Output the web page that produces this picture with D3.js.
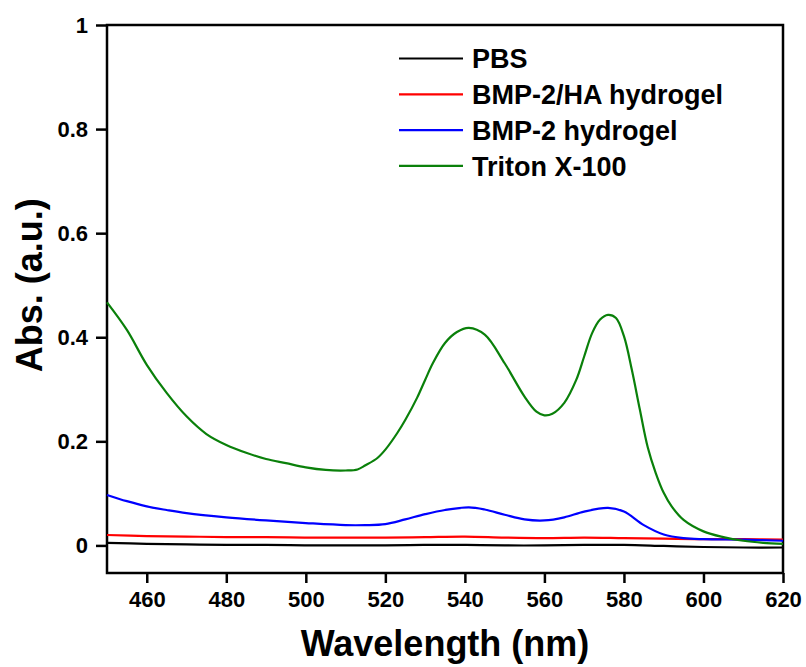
<!DOCTYPE html>
<html>
<head>
<meta charset="utf-8">
<script src="https://cdn.jsdelivr.net/npm/d3@7"></script>
<style>
  body { margin: 0; background: #fff; }
  text { font-family: "Liberation Sans", Arial, sans-serif; font-weight: bold; }
</style>
</head>
<body>
<svg id="chart" width="806" height="667"></svg>
<script>
// spectra: [wavelength nm, absorbance]
var triton = [[450,0.467],[455,0.414],[460,0.347],[465,0.293],[470,0.248],[475,0.214],[480,0.193],
  [485,0.178],[490,0.166],[495,0.158],[500,0.150],[505,0.145],[510,0.144],[513,0.146],[515,0.154],
  [518,0.168],[520,0.184],[523,0.216],[525,0.241],[528,0.284],[530,0.318],[532,0.351],[535,0.389],
  [538,0.410],[541,0.418],[545,0.405],[550,0.350],[555,0.286],[558,0.257],[560,0.250],[562,0.253],
  [565,0.274],[568,0.318],[570,0.363],[572,0.408],[574,0.434],[576,0.443],[578,0.437],[580,0.402],
  [582,0.337],[584,0.261],[586,0.188],[588,0.139],[590,0.101],[592,0.075],[595,0.049],[600,0.027],
  [605,0.016],[610,0.009],[615,0.005],[620,0.003]];
var bmp2 = [[450,0.097],[455,0.085],[460,0.075],[465,0.068],[470,0.062],[480,0.054],[490,0.048],
  [500,0.043],[510,0.039],[515,0.039],[520,0.041],[525,0.050],[530,0.060],[535,0.068],[541,0.073],
  [545,0.069],[550,0.059],[555,0.050],[560,0.048],[565,0.054],[570,0.065],[576,0.072],[580,0.065],
  [585,0.039],[590,0.021],[595,0.014],[600,0.012],[610,0.011],[620,0.009]];
var bmp2ha = [[450,0.020],[460,0.018],[470,0.017],[480,0.016],[490,0.016],[500,0.015],[510,0.015],
  [520,0.015],[530,0.016],[540,0.017],[550,0.015],[560,0.014],[570,0.015],[580,0.014],[590,0.013],
  [600,0.012],[610,0.012],[620,0.011]];
var pbs = [[450,0.005],[460,0.003],[470,0.002],[480,0.001],[490,0.001],[500,0.000],[510,0.000],
  [520,0.000],[530,0.001],[540,0.001],[550,0.000],[560,0.000],[570,0.001],[580,0.001],[590,-0.001],
  [600,-0.003],[610,-0.004],[620,-0.004]];

var seriesNames = ["PBS", "BMP-2/HA hydrogel", "BMP-2 hydrogel", "Triton X-100"];
var seriesColors = ["#000000", "#ff0000", "#0000ff", "#0a800a"];
var seriesData = [pbs, bmp2ha, bmp2, triton];

var xTicks = [460, 480, 500, 520, 540, 560, 580, 600, 620];
var yTicks = [0, 0.2, 0.4, 0.6, 0.8, 1];

var svg = d3.select("#chart");
var margin = {left: 107, right: 23, top: 25, bottom: 94};
var width = 806 - margin.left - margin.right,
    height = 667 - margin.top - margin.bottom;

var x = d3.scaleLinear().domain([450, 620]).range([margin.left, margin.left + width]);
var y = d3.scaleLinear().domain([-0.053, 1]).range([margin.top + height, margin.top]);

var g = svg.append("g");

// frame
g.append("rect")
  .attr("x", margin.left).attr("y", margin.top)
  .attr("width", width).attr("height", height)
  .attr("fill", "none").attr("stroke", "#000").attr("stroke-width", 2.5);

// x axis
var xAxis = g.append("g").attr("transform", "translate(0," + (margin.top + height) + ")");
xAxis.call(d3.axisBottom(x).tickValues(d3.range(450, 621, 10)).tickSize(5).tickFormat(""));
xAxis.call(d3.axisBottom(x).tickValues(xTicks).tickSize(10).tickPadding(8).tickFormat(d3.format("d")));
xAxis.selectAll(".domain").remove();
xAxis.selectAll("line").attr("stroke-width", 2.5);
xAxis.selectAll("text").attr("font-size", 22).attr("fill", "#000")
  .style("font-family", "'Liberation Sans', Arial, sans-serif");

// y axis
var yAxis = g.append("g").attr("transform", "translate(" + margin.left + ",0)");
yAxis.call(d3.axisLeft(y).tickValues(d3.range(0, 1.001, 0.1)).tickSize(7).tickFormat(""));
yAxis.call(d3.axisLeft(y).tickValues(yTicks).tickSize(11).tickPadding(8).tickFormat(function(d) { return d3.format("")(+d.toFixed(1)); }));
yAxis.selectAll(".domain").remove();
yAxis.selectAll("line").attr("stroke-width", 2.5);
yAxis.selectAll("text").attr("font-size", 22).attr("fill", "#000")
  .style("font-family", "'Liberation Sans', Arial, sans-serif");

// lines
var line = d3.line()
  .x(function(d) { return x(d[0]); })
  .y(function(d) { return y(d[1]); })
  .curve(d3.curveCatmullRom.alpha(0.5));

seriesData.forEach(function(s, i) {
  g.append("path")
    .datum(s)
    .attr("d", line)
    .attr("fill", "none")
    .attr("stroke", seriesColors[i])
    .attr("stroke-width", 2.2);
});

// legend
var legend = g.append("g");
seriesNames.forEach(function(name, i) {
  var ly = 58.5 + i * 35.8;
  legend.append("line")
    .attr("x1", 399).attr("x2", 463).attr("y1", ly).attr("y2", ly)
    .attr("stroke", seriesColors[i]).attr("stroke-width", 2.2);
  legend.append("text")
    .attr("x", 472).attr("y", ly).attr("dy", "0.36em")
    .attr("font-size", 27).text(name);
});

// axis titles
svg.append("text")
  .attr("x", x(535)).attr("y", 656)
  .attr("text-anchor", "middle").attr("font-size", 36)
  .text("Wavelength (nm)");

svg.append("text")
  .attr("transform", "translate(42," + y(0.5) + ") rotate(-90)")
  .attr("text-anchor", "middle").attr("font-size", 36)
  .text("Abs. (a.u.)");
</script>
</body>
</html>
